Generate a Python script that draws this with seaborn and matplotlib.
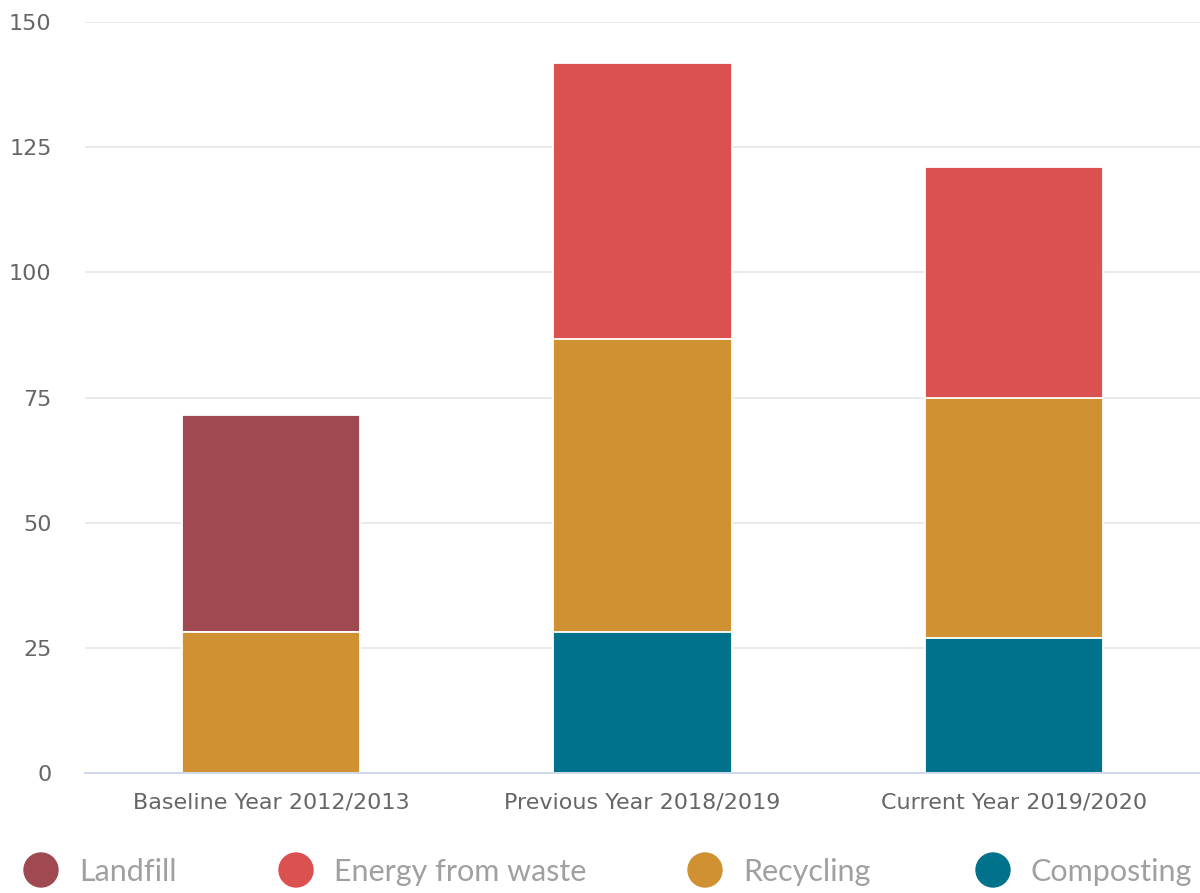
import matplotlib
matplotlib.use("Agg")
import matplotlib.pyplot as plt
from matplotlib.patches import Ellipse
import seaborn as sns
import numpy as np
import pandas as pd

categories = ["Baseline Year 2012/2013", "Previous Year 2018/2019", "Current Year 2019/2020"]
composting = [0.0, 28.2, 27.0]
recycling = [28.2, 58.5, 47.9]
energy_from_waste = [0.0, 55.2, 46.1]
landfill = [43.3, 0.0, 0.0]

series_names = ["Landfill", "Energy from waste", "Recycling", "Composting"]
colors = {"Landfill": "#9E4A50", "Energy from waste": "#DB514F",
          "Recycling": "#D09133", "Composting": "#00728C"}

sns.set_theme(style="white")
plt.rcParams['font.family'] = ['DejaVu Sans']

fig = plt.figure(figsize=(12, 8.93), dpi=100)
ax = fig.add_axes([85/1200, 1 - 773/893, 1 - 85/1200, (773 - 22)/893])

# stacking order bottom->top: Composting, Recycling, Energy, Landfill
stack = [("Composting", composting), ("Recycling", recycling),
         ("Energy from waste", energy_from_waste), ("Landfill", landfill)]
cum = np.zeros(len(categories))
cums = []
for name, vals in stack:
    cum = cum + np.array(vals)
    cums.append((name, cum.copy()))

# draw from top segment cumulative down so lower segments overlay
for name, totals in reversed(cums):
    df = pd.DataFrame({"cat": categories, "val": totals})
    if np.all(totals == 0):
        continue
    sns.barplot(data=df, x="cat", y="val", color=colors[name], ax=ax,
                width=0.48, edgecolor="white", linewidth=1.3,
                saturation=1, order=categories, errorbar=None)

ax.set_xlim(-0.5, 2.5)
ax.set_ylim(0, 150)
ax.set_yticks([0, 25, 50, 75, 100, 125, 150])
ax.set_xlabel("")
ax.set_ylabel("")
ax.yaxis.grid(True, color="#e6e6e6", linewidth=1.2)
ax.set_axisbelow(True)
for s in ["left", "right", "top"]:
    ax.spines[s].set_visible(False)
ax.spines["bottom"].set_color("#ccd6eb")
ax.spines["bottom"].set_linewidth(1.3)
ax.tick_params(axis="y", length=0, pad=24, labelsize=16, labelcolor="#666666")
ax.tick_params(axis="x", length=0, pad=14, labelsize=16, labelcolor="#666666")

# legend
legend_circles = [41, 296, 705, 993]
legend_texts = [79, 334, 743, 1031]
ly = 870
for name, cx, tx in zip(series_names, legend_circles, legend_texts):
    e = Ellipse((cx / 1200, 1 - ly / 893), 34 / 1200, 34 / 893,
                transform=fig.transFigure, color=colors[name])
    fig.add_artist(e)
    fig.text(tx / 1200, 1 - (ly + 2) / 893, name, fontsize=22, color="#a0a0a0",
             family=["Lato", "DejaVu Sans"], fontweight="normal",
             ha="left", va="center")

fig.savefig("out.png", dpi=100)
